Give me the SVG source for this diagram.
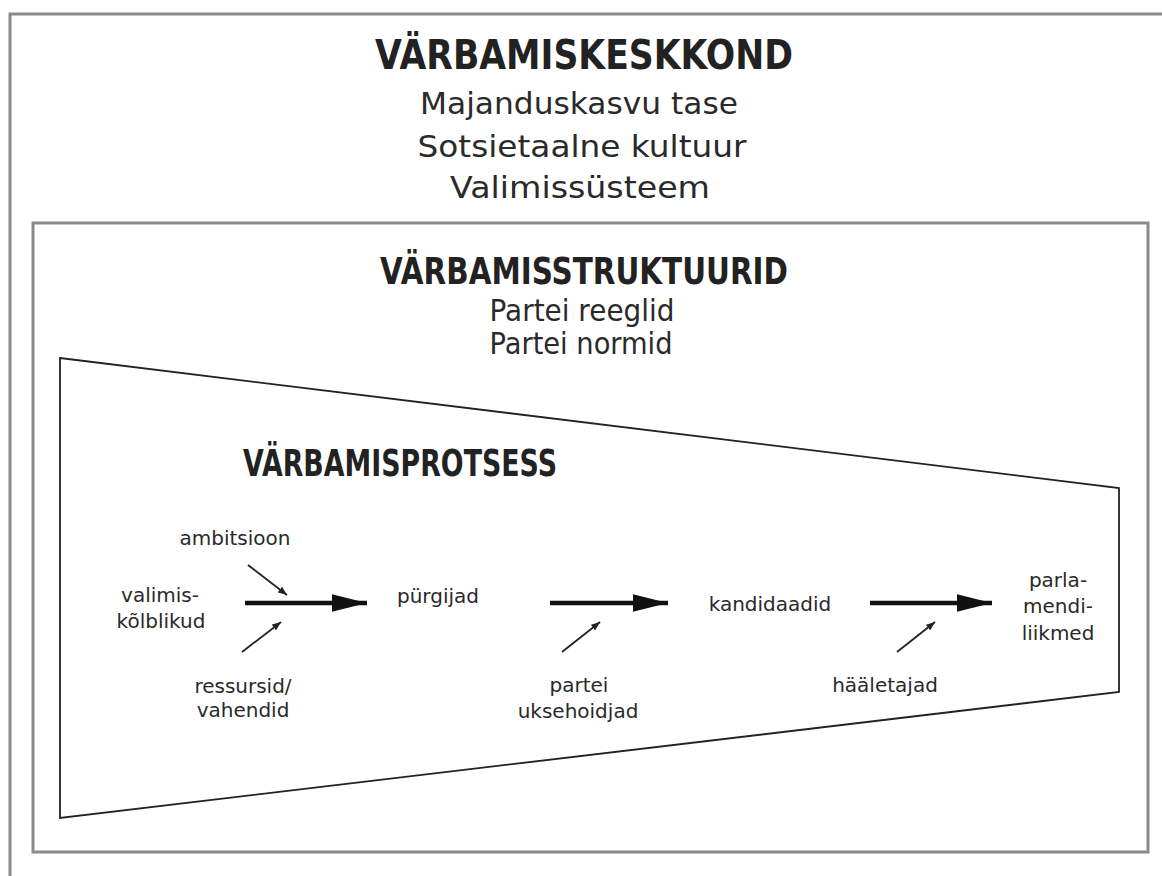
<svg xmlns="http://www.w3.org/2000/svg" width="1162" height="876" viewBox="0 0 1162 876">
<defs>
<style>
.box{fill:none;stroke:#8a8a8a;stroke-width:3}
.trap{fill:none;stroke:#222;stroke-width:1.8}
.h1{font-family:"DejaVu Sans",sans-serif;font-weight:bold;font-size:40px;fill:#222;text-anchor:middle}
.h1b{font-family:"DejaVu Sans",sans-serif;font-weight:bold;font-size:37px;fill:#222;text-anchor:middle}
.h2{font-family:"DejaVu Sans",sans-serif;font-size:30px;fill:#2a2a2a;text-anchor:middle}
.s{font-family:"DejaVu Sans","Verdana",sans-serif;font-size:20px;fill:#2a2a2a;text-anchor:middle}
.big{stroke:#111;stroke-width:4.5;fill:none}
.small{stroke:#222;stroke-width:1.8;fill:none}
</style>
<marker id="bh" viewBox="0 0 10 10" refX="10" refY="5" markerWidth="7.8" markerHeight="3.9" markerUnits="strokeWidth" orient="auto" preserveAspectRatio="none">
<path d="M0,0 L10,5 L0,10 Z" fill="#111"/>
</marker>
<marker id="sh" viewBox="0 0 10 10" refX="10" refY="5" markerWidth="5" markerHeight="4" markerUnits="strokeWidth" orient="auto" preserveAspectRatio="none">
<path d="M0,0 L10,5 L0,10 Z" fill="#222"/>
</marker>
</defs>
<rect width="1162" height="876" fill="#fff"/>
<g id="environment">
<path class="box" d="M1170,14 H10 V880"/>
<text class="h1" x="584" y="69" textLength="418" lengthAdjust="spacingAndGlyphs">VÄRBAMISKESKKOND</text>
<text class="h2" x="579" y="114" textLength="318" lengthAdjust="spacingAndGlyphs">Majanduskasvu tase</text>
<text class="h2" x="582" y="157" textLength="329" lengthAdjust="spacingAndGlyphs">Sotsietaalne kultuur</text>
<text class="h2" x="580" y="198" textLength="260" lengthAdjust="spacingAndGlyphs">Valimissüsteem</text>
</g>
<g id="structures">
<rect class="box" x="33" y="223" width="1115" height="629"/>
<text class="h1b" x="584" y="284" textLength="408" lengthAdjust="spacingAndGlyphs">VÄRBAMISSTRUKTUURID</text>
<text class="h2" x="582" y="321" textLength="185" lengthAdjust="spacingAndGlyphs">Partei reeglid</text>
<text class="h2" x="581" y="354" textLength="183" lengthAdjust="spacingAndGlyphs">Partei normid</text>
</g>
<g id="process">
<polygon class="trap" points="60,358 1119,488 1119,692 60,818"/>
<text class="h1b" x="400" y="476" textLength="314" lengthAdjust="spacingAndGlyphs">VÄRBAMISPROTSESS</text>
</g>
<g id="valimiskolblikud"><text class="s" x="160" y="602">valimis-</text><text class="s" x="161" y="628">kõlblikud</text></g>
<g id="ambitsioon"><text class="s" x="235" y="545">ambitsioon</text></g>
<g id="ressursid"><text class="s" x="243" y="693">ressursid/</text><text class="s" x="243" y="717">vahendid</text></g>
<g id="purgijad"><text class="s" x="438" y="603">pürgijad</text></g>
<g id="partei-uksehoidjad"><text class="s" x="579" y="692">partei</text><text class="s" x="578" y="718">uksehoidjad</text></g>
<g id="kandidaadid"><text class="s" x="770" y="611">kandidaadid</text></g>
<g id="haaletajad"><text class="s" x="885" y="692">hääletajad</text></g>
<g id="parlamendiliikmed"><text class="s" x="1058" y="587">parla-</text><text class="s" x="1058" y="613">mendi-</text><text class="s" x="1058" y="640">liikmed</text></g>
<g id="connectors">
<line class="big" x1="245" y1="603" x2="367" y2="603" marker-end="url(#bh)"/>
<line class="big" x1="550" y1="603" x2="668" y2="603" marker-end="url(#bh)"/>
<line class="big" x1="870" y1="603" x2="992" y2="603" marker-end="url(#bh)"/>
<line class="small" x1="248" y1="565" x2="287" y2="595" marker-end="url(#sh)"/>
<line class="small" x1="242" y1="652" x2="281" y2="622" marker-end="url(#sh)"/>
<line class="small" x1="562" y1="652" x2="600" y2="622" marker-end="url(#sh)"/>
<line class="small" x1="897" y1="652" x2="935" y2="622" marker-end="url(#sh)"/>
</g>
</svg>
